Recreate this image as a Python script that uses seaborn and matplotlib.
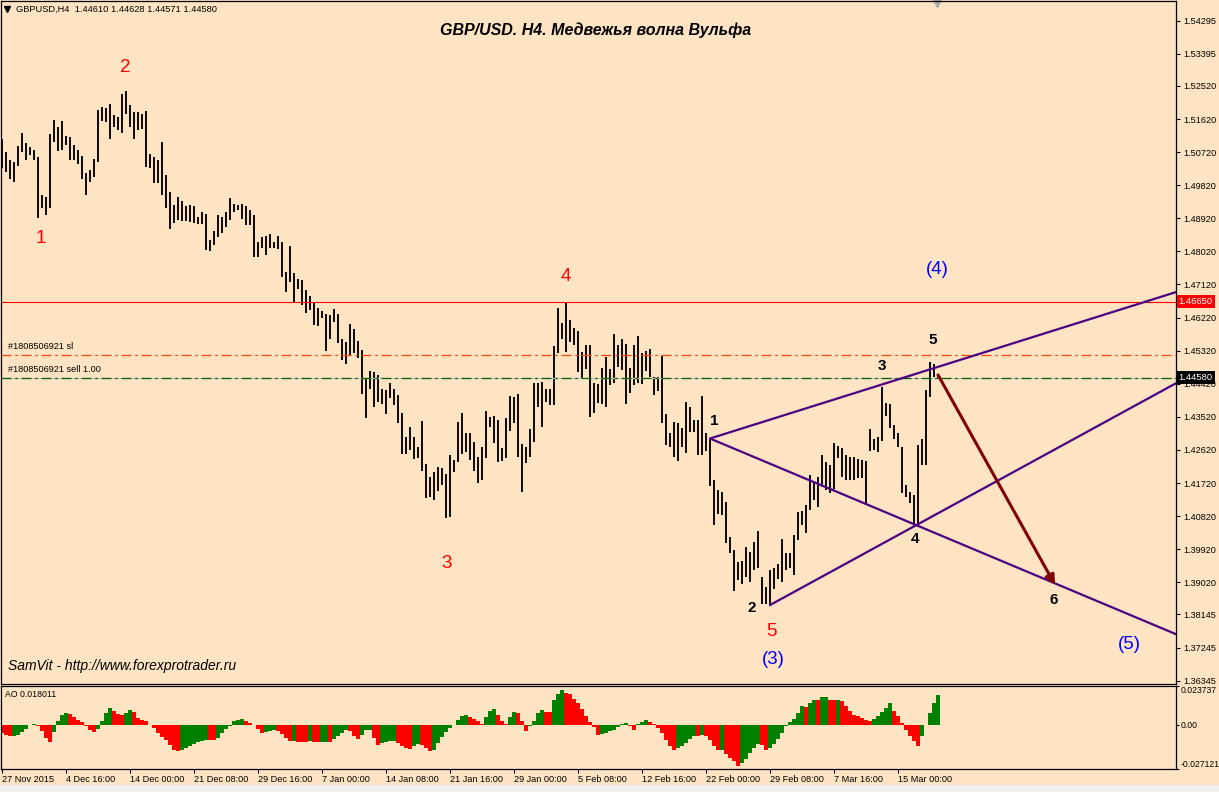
import matplotlib
matplotlib.use("Agg")
import matplotlib.pyplot as plt
from matplotlib.patches import Rectangle
import numpy as np
import seaborn as sns

# ---- price bars (one bar per ~8 hours) ----
bar_high = [
    1.5109, 1.5073, 1.5050, 1.5046, 1.5088, 1.5125, 1.5096, 1.5087, 1.5079, 1.5058,
    1.4955, 1.4951, 1.5121, 1.5159, 1.5141, 1.5157, 1.5116, 1.5114, 1.5091, 1.5079,
    1.5061, 1.5014, 1.5023, 1.5052, 1.5186, 1.5194, 1.5191, 1.5203, 1.5173, 1.5168,
    1.5230, 1.5238, 1.5200, 1.5182, 1.5182, 1.5175, 1.5185, 1.5067, 1.5058, 1.5050,
    1.5100, 1.5009, 1.4964, 1.4928, 1.4951, 1.4940, 1.4925, 1.4928, 1.4925, 1.4896,
    1.4910, 1.4905, 1.4833, 1.4858, 1.4901, 1.4896, 1.4910, 1.4946, 1.4932, 1.4928,
    1.4930,
    1.4925, 1.4915, 1.4900, 1.4828, 1.4842, 1.4844, 1.4849, 1.4828, 1.4844, 1.4828,
    1.4747, 1.4817, 1.4742, 1.4726, 1.4724, 1.4697, 1.4681, 1.4665, 1.4647, 1.4641,
    1.4633, 1.4629, 1.4644, 1.4632, 1.4565, 1.4556, 1.4604, 1.4590, 1.4559, 1.4534,
    1.4454, 1.4477, 1.4475, 1.4466, 1.4427, 1.4425, 1.4445, 1.4427, 1.4411, 1.4363,
    1.4298, 1.4325, 1.4298, 1.4271, 1.4341, 1.4225, 1.4187, 1.4203, 1.4216, 1.4212,
    1.4196, 1.4248, 1.4234, 1.4339, 1.4363, 1.4307, 1.4307,
    1.4284, 1.4243, 1.4269, 1.4369, 1.4352, 1.4354, 1.4343, 1.4266, 1.4348, 1.4409,
    1.4405, 1.4414, 1.4278, 1.4271, 1.4318, 1.4445, 1.4445, 1.4448, 1.4429, 1.4429,
    1.4545, 1.4647, 1.4606, 1.4665, 1.4615, 1.4593, 1.4586, 1.4529, 1.4547, 1.4547,
    1.4445, 1.4441, 1.4484, 1.4516, 1.4481, 1.4577, 1.4547, 1.4563, 1.4550, 1.4484,
    1.4547, 1.4572, 1.4525, 1.4532, 1.4536, 1.4461, 1.4459, 1.4517, 1.4360, 1.4307,
    1.4339, 1.4336, 1.4321, 1.4393, 1.4380, 1.4343, 1.4343, 1.4409, 1.4307,
    1.4295, 1.4180, 1.4153, 1.4148, 1.4121, 1.4026, 1.3990, 1.3958, 1.3961, 1.3999,
    1.3985, 1.4012, 1.4042, 1.3917, 1.3890, 1.3935, 1.3942, 1.3953, 1.4019, 1.3981,
    1.3982, 1.4030, 1.4094, 1.4097, 1.4112, 1.4194, 1.4176, 1.4189, 1.4248, 1.4230,
    1.4221, 1.4282, 1.4273, 1.4266, 1.4248, 1.4242, 1.4244, 1.4236, 1.4234, 1.4233,
    1.4318, 1.4293, 1.4298, 1.4434, 1.4390, 1.4387, 1.4330, 1.4307, 1.4269, 1.4166,
    1.4148, 1.4139, 1.4275, 1.4293, 1.4425, 1.4502, 1.4496, 1.4463,
]
bar_low = [
    1.5028, 1.5018, 1.4998, 1.4991, 1.5034, 1.5073, 1.5050, 1.5064, 1.5050, 1.4894,
    1.4919, 1.4901, 1.4919, 1.5100, 1.5076, 1.5078, 1.5091, 1.5050, 1.5050, 1.5039,
    1.5000, 1.4955, 1.4991, 1.5005, 1.5046, 1.5157, 1.5155, 1.5109, 1.5141, 1.5132,
    1.5123, 1.5177, 1.5141, 1.5107, 1.5132, 1.5136, 1.5032, 1.5028, 1.4987, 1.4987,
    1.4955, 1.4919, 1.4864, 1.4880, 1.4887, 1.4885, 1.4885, 1.4882, 1.4880, 1.4876,
    1.4876, 1.4805, 1.4804, 1.4819, 1.4842, 1.4853, 1.4869, 1.4887, 1.4910, 1.4914,
    1.4890,
    1.4873, 1.4873, 1.4787, 1.4786, 1.4810, 1.4792, 1.4810, 1.4810, 1.4808, 1.4731,
    1.4692, 1.4720, 1.4662, 1.4701, 1.4656, 1.4635, 1.4642, 1.4602, 1.4599, 1.4620,
    1.4532, 1.4565, 1.4611, 1.4554, 1.4506, 1.4496, 1.4520, 1.4526, 1.4511, 1.4414,
    1.4350, 1.4429, 1.4379, 1.4393, 1.4388, 1.4359, 1.4402, 1.4384, 1.4336, 1.4251,
    1.4251, 1.4262, 1.4236, 1.4239, 1.4205, 1.4130, 1.4133, 1.4125, 1.4151, 1.4166,
    1.4078, 1.4080, 1.4203, 1.4230, 1.4252, 1.4257, 1.4234,
    1.4205, 1.4173, 1.4180, 1.4239, 1.4325, 1.4282, 1.4230, 1.4233, 1.4239, 1.4314,
    1.4334, 1.4243, 1.4148, 1.4227, 1.4243, 1.4284, 1.4380, 1.4325, 1.4393, 1.4384,
    1.4384, 1.4525, 1.4565, 1.4529, 1.4556, 1.4547, 1.4475, 1.4454, 1.4481, 1.4351,
    1.4363, 1.4389, 1.4387, 1.4378, 1.4438, 1.4443, 1.4487, 1.4479, 1.4386, 1.4418,
    1.4438, 1.4443, 1.4441, 1.4478, 1.4459, 1.4411, 1.4423, 1.4334, 1.4275, 1.4271,
    1.4243, 1.4233, 1.4271, 1.4254, 1.4312, 1.4312, 1.4248, 1.4248, 1.4260,
    1.4165, 1.4057, 1.4089, 1.4085, 1.4010, 1.3981, 1.3879, 1.3908, 1.3897, 1.3917,
    1.3903, 1.3935, 1.3942, 1.3844, 1.3843, 1.3837, 1.3883, 1.3910, 1.3903, 1.3935,
    1.3940, 1.3922, 1.4017, 1.4058, 1.4035, 1.4098, 1.4127, 1.4107, 1.4162, 1.4153,
    1.4144, 1.4157, 1.4239, 1.4189, 1.4180, 1.4180, 1.4180, 1.4185, 1.4185, 1.4115,
    1.4260, 1.4262, 1.4257, 1.4287, 1.4354, 1.4321, 1.4293, 1.4271, 1.4144, 1.4135,
    1.4117, 1.4053, 1.4058, 1.4221, 1.4221, 1.4405, 1.4459, 1.4457,
]

# ---- Awesome Oscillator, same bars ----
ao_values = [
    -0.0051, -0.0065, -0.0071, -0.0067, -0.0061, -0.0047, -0.0027, -0.0004, 0.0006, -0.0010,
    -0.0041, -0.0082, -0.0108, -0.0047, 0.0020, 0.0061, 0.0071, 0.0065, 0.0047, 0.0031,
    0.0014, -0.0010, -0.0035, -0.0045, -0.0027, 0.0020, 0.0071, 0.0102, 0.0082, 0.0065,
    0.0061, 0.0071, 0.0086, 0.0075, 0.0041, 0.0031, 0.0020, 0.0000, -0.0020, -0.0051,
    -0.0075, -0.0096, -0.0122, -0.0153, -0.0163, -0.0157, -0.0143, -0.0129, -0.0116, -0.0108,
    -0.0102, -0.0092, -0.0092, -0.0096, -0.0082, -0.0051, -0.0027, -0.0006, 0.0020, 0.0031,
    0.0035, 0.0022, 0.0010, 0.0000, -0.0027, -0.0051, -0.0043, -0.0039, -0.0035, -0.0041,
    -0.0055, -0.0082, -0.0102, -0.0100, -0.0104, -0.0108, -0.0108, -0.0100, -0.0108, -0.0108,
    -0.0106, -0.0104, -0.0108, -0.0088, -0.0067, -0.0051, -0.0031, -0.0041, -0.0067, -0.0088,
    -0.0061, -0.0035, -0.0031, -0.0082, -0.0122, -0.0112, -0.0104, -0.0102, -0.0100, -0.0112,
    -0.0133, -0.0145, -0.0149, -0.0129, -0.0116, -0.0122, -0.0143, -0.0163, -0.0157, -0.0112,
    -0.0075, -0.0047, -0.0020, 0.0000, 0.0031, 0.0055, 0.0061, 0.0047, 0.0035, 0.0020,
    0.0006, 0.0047, 0.0082, 0.0096, 0.0061, 0.0020, 0.0006, 0.0047, 0.0075, 0.0071,
    0.0020, -0.0041, -0.0010, 0.0020, 0.0071, 0.0088, 0.0078, 0.0075, 0.0153, 0.0184,
    0.0214, 0.0194, 0.0184, 0.0159, 0.0133, 0.0096, 0.0051, 0.0014, -0.0014, -0.0063,
    -0.0059, -0.0051, -0.0041, -0.0031, -0.0014, 0.0006, 0.0010, -0.0010, -0.0035, 0.0006,
    0.0016, 0.0027, 0.0014, 0.0006, -0.0020, -0.0051, -0.0092, -0.0133, -0.0157, -0.0143,
    -0.0129, -0.0112, -0.0088, -0.0067, -0.0071, -0.0061, -0.0071, -0.0096, -0.0133, -0.0157,
    -0.0153, -0.0177, -0.0204, -0.0224, -0.0251, -0.0235, -0.0210, -0.0173, -0.0143, -0.0116,
    -0.0122, -0.0153, -0.0143, -0.0116, -0.0088, -0.0051, -0.0010, 0.0014, 0.0035, 0.0071,
    0.0114, 0.0110, 0.0133, 0.0153, 0.0151, 0.0167, 0.0169, 0.0153, 0.0149, 0.0151,
    0.0143, 0.0112, 0.0082, 0.0061, 0.0051, 0.0041, 0.0031, 0.0020, 0.0035, 0.0055,
    0.0075, 0.0102, 0.0129, 0.0082, 0.0051, 0.0010, -0.0031, -0.0067, -0.0102, -0.0129,
    -0.0071, 0.0000, 0.0071, 0.0133, 0.0180,
]

price_ticks = [1.54295, 1.53395, 1.52520, 1.51620, 1.50720, 1.49820, 1.48920,
               1.48020, 1.47120, 1.46220, 1.45320, 1.44420, 1.43520, 1.42620,
               1.41720, 1.40820, 1.39920, 1.39020, 1.38145, 1.37245, 1.36345]
ao_ticks = [0.023737, 0.0, -0.027121]
ao_tick_labels = ["0.023737", "0.00", "-0.027121"]
date_pos = [0, 16, 32, 48, 64, 80, 96, 112, 128, 144, 160, 176, 192, 208, 224]
date_labels = ["27 Nov 2015", "4 Dec 16:00", "14 Dec 00:00", "21 Dec 08:00",
               "29 Dec 16:00", "7 Jan 00:00", "14 Jan 08:00", "21 Jan 16:00",
               "29 Jan 00:00", "5 Feb 08:00", "12 Feb 16:00", "22 Feb 00:00",
               "29 Feb 08:00", "7 Mar 16:00", "15 Mar 00:00"]

# Elliott wave counts (red / blue) and Wolfe wave points (black)
red_text = ["1", "2", "3", "4", "5"]
red_x = [9.75, 30.75, 111.25, 141, 192.25]
red_y = [1.4838, 1.5301, 1.3954, 1.4735, 1.3767]
blue_text = ["(3)", "(4)", "(5)"]
blue_x = [192.75, 233.75, 281.75]
blue_y = [1.3691, 1.4754, 1.3734]
wolfe_text = ["1", "2", "3", "4", "5", "6"]
wolfe_x = [178, 187.5, 220, 228.25, 232.75, 263]
wolfe_y = [1.4341, 1.3832, 1.4490, 1.4020, 1.4561, 1.3854]

# trend rays: start point and a second point they pass through
ray_x0 = [177, 177, 192]
ray_y0 = [1.4293, 1.4293, 1.3840]
ray_x1 = [220, 228, 228]
ray_y1 = [1.4440, 1.4060, 1.4054]

arrow_start = (234, 1.4466)
arrow_end = (263.25, 1.3895)

level_line = 1.46650
level_sl = 1.4521
level_bid = 1.44580

BG = "#ffe4c4"
W, H = 1219, 792
X_MIN, X_MAX = -0.375, 293.5

sns.set_theme(style="white")
plt.rcParams["font.family"] = ["Liberation Sans", "DejaVu Sans"]
plt.rcParams["axes.facecolor"] = BG
plt.rcParams["text.color"] = "black"

fig = plt.figure(figsize=(W / 100, H / 100), dpi=100, facecolor=BG)
ax = fig.add_axes([0.5 / W, (H - 683.7) / H, 1175.5 / W, 683.2 / H])
ax2 = fig.add_axes([0.5 / W, (H - 769) / H, 1175.5 / W, 83.3 / H])
fig.add_artist(Rectangle((0, 0), 1, 7 / H, transform=fig.transFigure,
                         fc="#f0f0f0", ec="none"))

idx = np.arange(len(bar_high))

# ---- main price panel ----
ax.vlines(idx, bar_low, bar_high, color="black", lw=1.35)
ax.axhline(level_line, color="red", lw=0.8)
ax.axhline(level_bid, color="#c0c0c0", lw=0.9)
ax.axhline(level_bid, color="#006400", lw=0.9, ls=(0, (8, 3, 2, 3)))
ax.axhline(level_sl, color="#ff4500", lw=0.9, ls=(0, (8, 3, 2, 3)))

for x0, y0, x1, y1 in zip(ray_x0, ray_y0, ray_x1, ray_y1):
    slope = (y1 - y0) / (x1 - x0)
    sns.lineplot(x=[x0, X_MAX], y=[y0, y0 + slope * (X_MAX - x0)], ax=ax,
                 color="#4b0082", lw=1.6)

ax.annotate("", xy=arrow_end, xytext=arrow_start,
            arrowprops=dict(arrowstyle="-|>", color="#800000", lw=2.2,
                            mutation_scale=14, shrinkA=0, shrinkB=0))

for t, x, y in zip(red_text, red_x, red_y):
    ax.text(x, y, t, color="red", fontsize=13.5, ha="center", va="center")
for t, x, y in zip(blue_text, blue_x, blue_y):
    ax.text(x, y, t, color="blue", fontsize=13.5, ha="center", va="center")
for t, x, y in zip(wolfe_text, wolfe_x, wolfe_y):
    ax.text(x, y, t, color="black", fontsize=11, fontweight="bold",
            ha="center", va="center")

ax.text(0.506, 0.956, "GBP/USD. H4. Медвежья волна Вульфа", transform=ax.transAxes,
        ha="center", va="center", fontsize=11.5, fontweight="bold", style="italic",
        color="black")
ax.text(0.0068, 0.026, "SamVit - http://www.forexprotrader.ru", transform=ax.transAxes,
        ha="left", va="center", fontsize=10, style="italic", color="black")
ax.text(16 / 1176, 1 - 8.5 / 683, "GBPUSD,H4  1.44610 1.44628 1.44571 1.44580",
        transform=ax.transAxes, ha="left", va="center", fontsize=6.7)
ax.plot([6.5 / 1176], [1 - 8.5 / 683], marker="v", ms=4, color="black",
        transform=ax.transAxes)
ax.plot([233.75], [1.5484], marker="v", ms=8, color="#a9a9a9", clip_on=False)

ax.annotate("#1808506921 sl", xy=(8 / 1176, level_sl),
            xycoords=("axes fraction", "data"), xytext=(0, 2.5),
            textcoords="offset points", fontsize=6.6, va="bottom")
ax.annotate("#1808506921 sell 1.00", xy=(8 / 1176, level_bid),
            xycoords=("axes fraction", "data"), xytext=(0, 2.5),
            textcoords="offset points", fontsize=6.6, va="bottom")

ax.set_xlim(X_MIN, X_MAX)
ax.set_ylim(1.36261, 1.54844)
ax.set_xticks([])
ax.yaxis.tick_right()
ax.set_yticks(price_ticks)
ax.set_yticklabels([f"{p:.5f}" for p in price_ticks])
ax.tick_params(axis="y", direction="out", length=3, width=0.8, pad=2,
               labelsize=6.6, colors="black", right=True, left=False)

box_style = dict(boxstyle="square,pad=0.2", ec="none")
ax.annotate("1.46650", xy=(1.0, level_line), xycoords=("axes fraction", "data"),
            xytext=(2, 0), textcoords="offset points", va="center", ha="left",
            fontsize=6.8, color="white", bbox=dict(fc="red", **box_style),
            annotation_clip=False)
ax.annotate("1.44580", xy=(1.0, level_bid), xycoords=("axes fraction", "data"),
            xytext=(2, 0), textcoords="offset points", va="center", ha="left",
            fontsize=6.8, color="white", bbox=dict(fc="black", **box_style),
            annotation_clip=False)

# ---- AO panel ----
ao_colors = ["red"] + ["green" if ao_values[i] > ao_values[i - 1] else "red"
                       for i in range(1, len(ao_values))]
ax2.bar(idx, ao_values, width=1.0, color=ao_colors, linewidth=0)
ax2.text(5 / 1176, 0.9, "AO 0.018011", transform=ax2.transAxes,
         ha="left", va="center", fontsize=6.3)
ax2.set_xlim(X_MIN, X_MAX)
ax2.set_ylim(-0.027121, 0.023737)
ax2.yaxis.tick_right()
ax2.set_yticks(ao_ticks)
ax2.set_yticklabels(ao_tick_labels)
labs = ax2.get_yticklabels()
labs[0].set_va("top")
labs[2].set_va("bottom")
ax2.tick_params(axis="y", direction="out", length=2, width=0.8, pad=1,
                labelsize=6.2, colors="black", right=True, left=False)
ax2.set_xticks(date_pos)
ax2.set_xticklabels(date_labels, ha="left")
ax2.tick_params(axis="x", direction="out", length=3, width=0.8, pad=1.5,
                labelsize=6.6, colors="black", bottom=True)

for a in (ax, ax2):
    for s in a.spines.values():
        s.set_color("black")
        s.set_linewidth(0.9)
        s.set_visible(True)

fig.savefig("out.png", dpi=100, facecolor=BG)
